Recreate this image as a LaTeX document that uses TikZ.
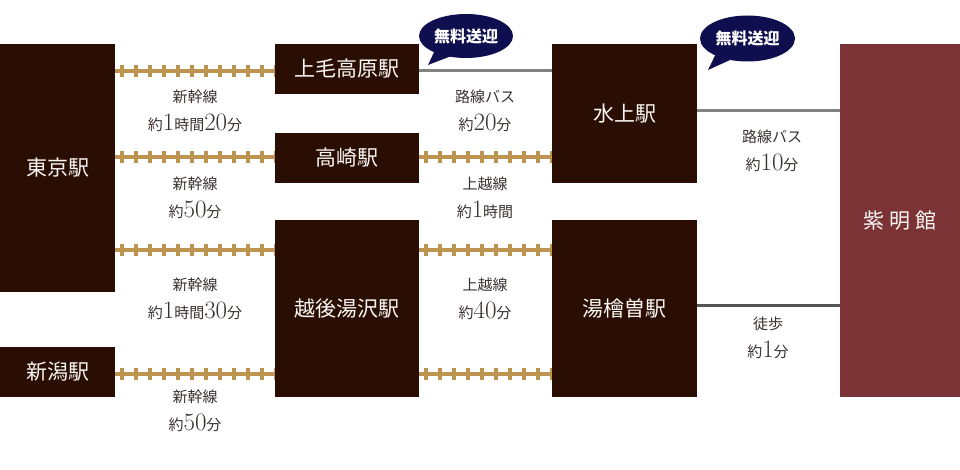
\documentclass[tikz,border=0pt]{standalone}
\usepackage{fontspec}
\newfontfamily\cjk{Noto Sans CJK JP}
\usetikzlibrary{shapes.geometric,calc}
\definecolor{boxc}{HTML}{2A0E04}
\definecolor{shimc}{HTML}{7B3335}
\definecolor{railc}{HTML}{BE9550}
\definecolor{busc}{HTML}{828282}
\definecolor{walkc}{HTML}{555555}
\definecolor{navyc}{HTML}{0F0F50}
\definecolor{labc}{HTML}{3A3030}
\newcommand\jp[1]{{\cjk #1}}
\newcommand\nm[1]{{\fontsize{25}{28}\selectfont #1}}
\tikzset{
  station/.style={rectangle, fill=boxc, inner sep=0pt, text=white!94!brown,
    font=\cjk\fontsize{21}{24}\selectfont},
  lodge/.style={station, fill=shimc},
  rail/.style={draw=railc, line width=4pt,
    postaction={draw=railc, line width=12pt, dash pattern=on 4pt off 10pt, dash phase=9pt}},
  bus/.style={draw=busc, line width=3pt},
  walk/.style={draw=walkc, line width=3pt},
  lbl/.style={align=center, inner sep=0pt, text=labc, font=\fontsize{15}{28}\selectfont},
  bubble/.style={ellipse, fill=navyc, inner sep=0pt, text=white,
    font=\cjk\bfseries\fontsize{16}{18}\selectfont},
}
\begin{document}
\begin{tikzpicture}[x=1pt,y=-1pt]
\useasboundingbox (0,0) rectangle (960,470);
% stations
\node[station, minimum width=115pt, minimum height=248pt] (tokyo) at (57.5,168) {東京駅};
\node[station, minimum width=115pt, minimum height=50pt] (niigata) at (57.5,372) {新潟駅};
\node[station, minimum width=144pt, minimum height=50pt] (jomo) at (347,69) {上毛高原駅};
\node[station, minimum width=144pt, minimum height=50pt] (taka) at (347,158) {高崎駅};
\node[station, minimum width=144pt, minimum height=177pt] (yuzawa) at (347,308.5) {越後湯沢駅};
\node[station, minimum width=145pt, minimum height=139pt] (mina) at (624.5,113.5) {水上駅};
\node[station, minimum width=145pt, minimum height=177pt] (yubi) at (624.5,308.5) {湯檜曽駅};
\node[lodge, minimum width=120pt, minimum height=353pt] (shim) at (900,220.5) {紫\hspace{5pt}明\hspace{5pt}館};
% rail rows
\coordinate (r1) at (0,71);
\coordinate (r2) at (0,157);
\coordinate (r3) at (0,250);
\coordinate (r4) at (0,374);
\draw[rail] (tokyo.east |- r1) -- (jomo.west |- r1);
\draw[rail] (tokyo.east |- r2) -- (taka.west |- r2);
\draw[rail] (tokyo.east |- r3) -- (yuzawa.west |- r3);
\draw[rail] (niigata.east |- r4) -- (yuzawa.west |- r4);
\draw[rail] (taka.east |- r2) -- (mina.west |- r2);
\draw[rail] (yuzawa.east |- r3) -- (yubi.west |- r3);
\draw[rail] (yuzawa.east |- r4) -- (yubi.west |- r4);
% bus / walk
\coordinate (b1) at (0,71);
\coordinate (b2) at (0,111);
\coordinate (w1) at (0,305);
\draw[bus] (jomo.east |- b1) -- (mina.west |- b1);
\draw[bus] (mina.east |- b2) -- (shim.west |- b2);
\draw[walk] (yubi.east |- w1) -- (shim.west |- w1);
% labels
\node[lbl] (l1) at (195,111) {\jp{新幹線}\\\jp{約}\nm{1}\jp{時間}\nm{20}\jp{分}};
\node[lbl] (l2) at (195,198) {\jp{新幹線}\\\jp{約}\nm{50}\jp{分}};
\node[lbl] (l3) at (195,299) {\jp{新幹線}\\\jp{約}\nm{1}\jp{時間}\nm{30}\jp{分}};
\node[lbl] (l4) at (195,411) {\jp{新幹線}\\\jp{約}\nm{50}\jp{分}};
\node[lbl] (l5) at (485,111) {\jp{路線バス}\\\jp{約}\nm{20}\jp{分}};
\node[lbl] (l6) at (485,198) {\jp{上越線}\\\jp{約}\nm{1}\jp{時間}};
\node[lbl] (l7) at (485,299) {\jp{上越線}\\\jp{約}\nm{40}\jp{分}};
\node[lbl] (l8) at (772,151) {\jp{路線バス}\\\jp{約}\nm{10}\jp{分}};
\node[lbl] (l9) at (768,338) {\jp{徒歩}\\\jp{約}\nm{1}\jp{分}};
% bubbles
\coordinate (t1) at (428,65);
\coordinate (t2) at (708,70);
\node[bubble, minimum width=94pt, minimum height=44pt] (bb1) at (466,36) {無料送迎};
\node[bubble, minimum width=95pt, minimum height=46pt] (bb2) at (747.5,38.5) {無料送迎};
\fill[navyc] ($(bb1.center)+(-30,12)$) -- (t1) -- ($(bb1.center)+(-12,19)$) -- cycle;
\fill[navyc] ($(bb2.center)+(-30,12)$) -- (t2) -- ($(bb2.center)+(-12,19)$) -- cycle;
\end{tikzpicture}
\end{document}
